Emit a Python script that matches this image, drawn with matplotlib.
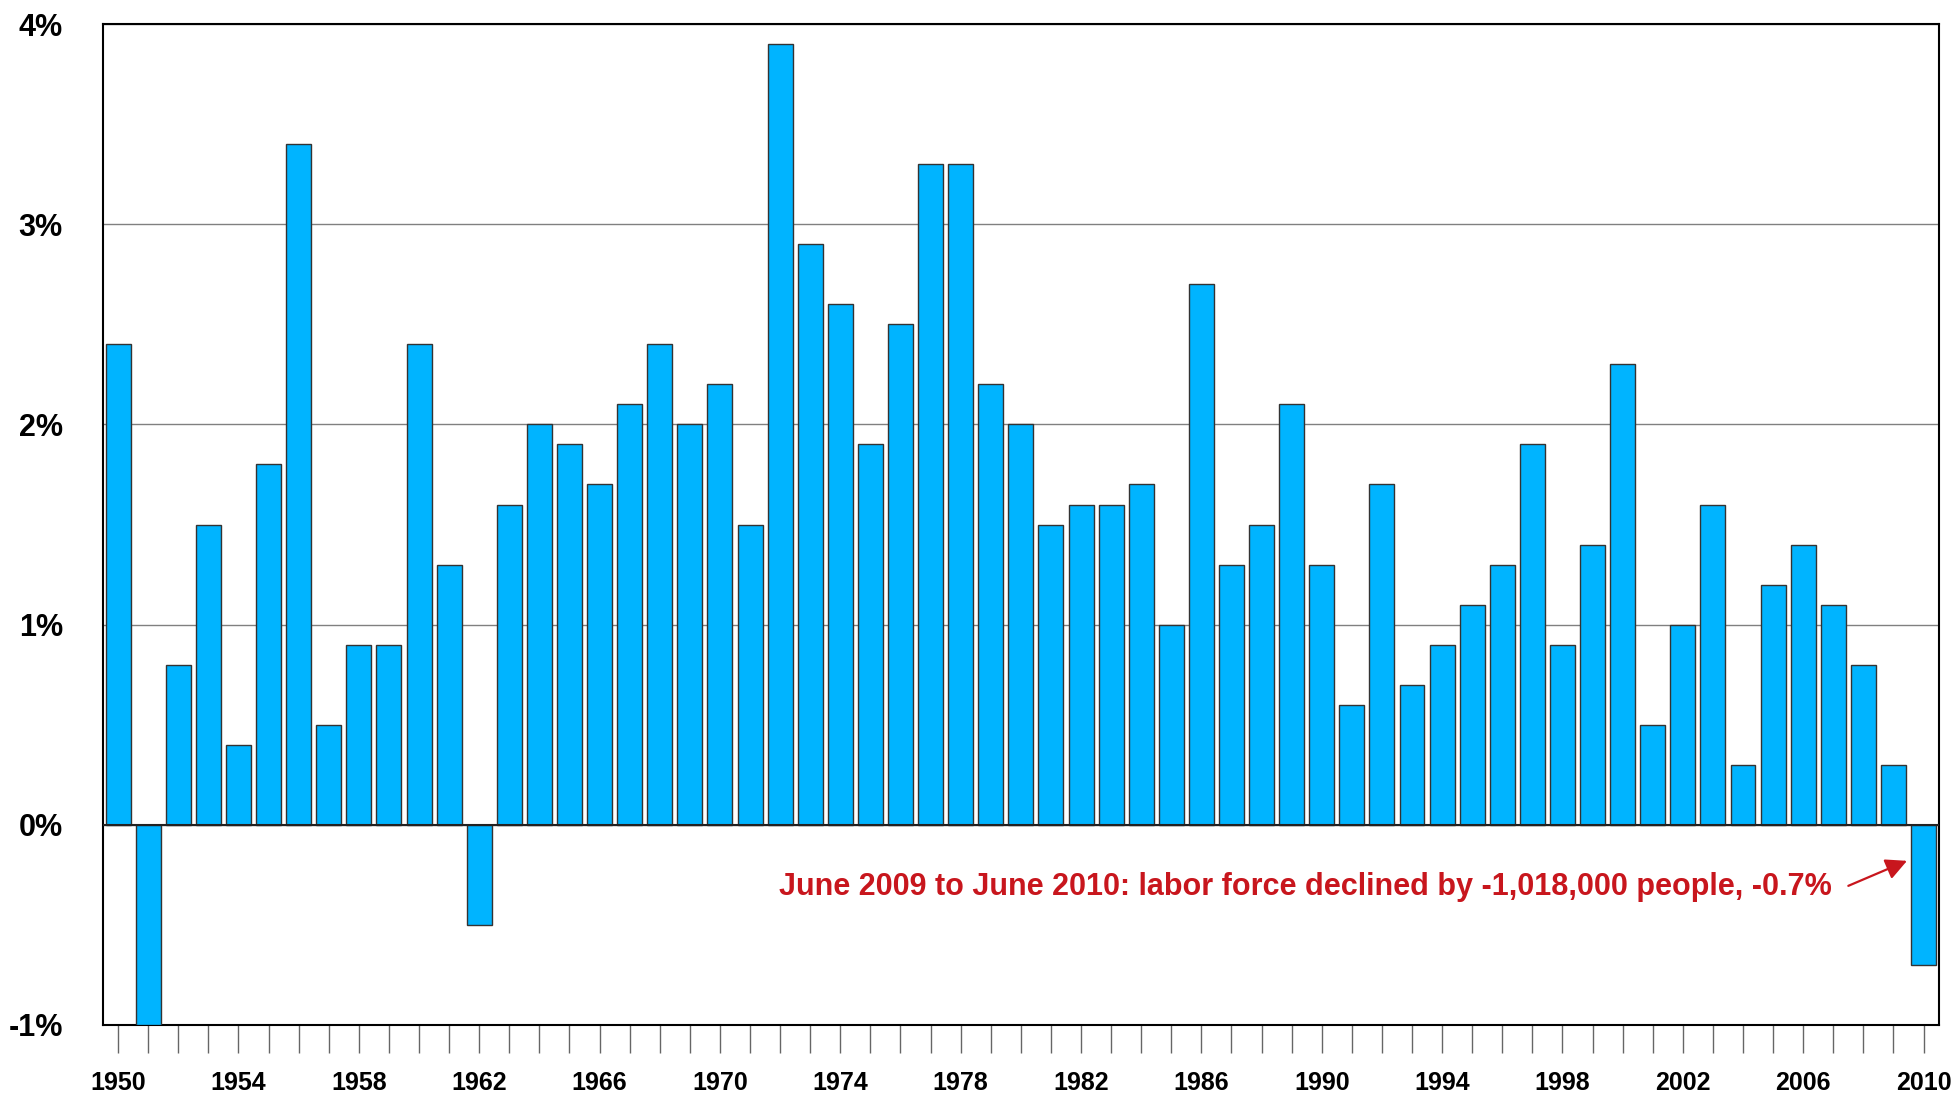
import matplotlib.pyplot as plt
import numpy as np

plt.rcParams['font.family'] = ['Liberation Sans', 'DejaVu Sans']

BLUE = '#00B4FF'
RED = '#C8161D'

years = list(range(1950, 2011))
growth = [2.4, -1.0, 0.8, 1.5, 0.4, 1.8, 3.4, 0.5, 0.9, 0.9,
          2.4, 1.3, -0.5, 1.6, 2.0, 1.9, 1.7, 2.1, 2.4, 2.0,
          2.2, 1.5, 3.9, 2.9, 2.6, 1.9, 2.5, 3.3, 3.3, 2.2,
          2.0, 1.5, 1.6, 1.6, 1.7, 1.0, 2.7, 1.3, 1.5, 2.1,
          1.3, 0.6, 1.7, 0.7, 0.9, 1.1, 1.3, 1.9, 0.9, 1.4,
          2.3, 0.5, 1.0, 1.6, 0.3, 1.2, 1.4, 1.1, 0.8, 0.3,
          -0.7]
y_ticks = [-1, 0, 1, 2, 3, 4]
note = 'June 2009 to June 2010: labor force declined by -1,018,000 people, -0.7%'

fig = plt.figure(figsize=(19.56, 10.94), dpi=100)
ax = fig.add_axes([0.0527, 0.0631, 0.9384, 0.9149])

ax.bar(years, growth, width=0.83, color=BLUE, edgecolor='#333333', linewidth=1.0, zorder=3)
ax.axhline(0, color='#222222', linewidth=1.5, zorder=4)

ax.set_xlim(1949.5, 2010.5)
ax.set_ylim(-1, 4)
ax.set_yticks(y_ticks)
ax.set_yticklabels([f'{v}%' for v in y_ticks], fontsize=22, fontweight='bold')
ax.set_xticks(years)
ax.set_xticklabels([str(y) if (y - 1950) % 4 == 0 else '' for y in years],
                   fontsize=18, fontweight='bold')
ax.tick_params(axis='y', length=0, pad=29)
ax.tick_params(axis='x', length=20, width=1.0, color='#666666', pad=13)

ax.grid(axis='y', color='#808080', linewidth=1.0, zorder=0)
for s in ax.spines.values():
    s.set_color('black')
    s.set_linewidth(1.5)

ax.text(2006.95, -0.31, note, ha='right', va='center', color=RED,
        fontsize=22, fontweight='bold')
ax.annotate('', xy=(2009.45, -0.18), xytext=(2007.5, -0.305),
            arrowprops=dict(arrowstyle='-|>', color=RED, lw=1.6, mutation_scale=32,
                            shrinkA=0, shrinkB=0))

plt.savefig('out.png', dpi=100, facecolor='white')
